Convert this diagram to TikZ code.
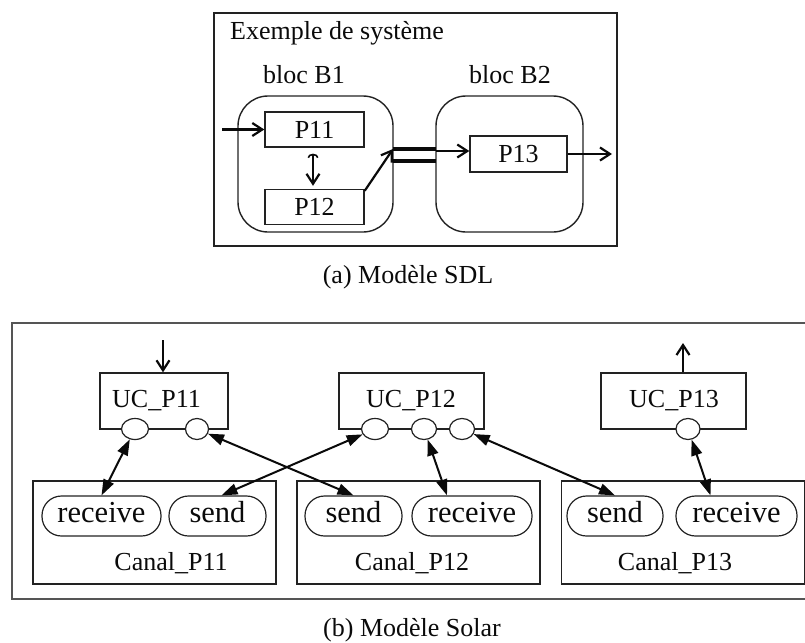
\documentclass[tikz,border=0pt]{standalone}
\usepackage{fontspec}
\setmainfont{Liberation Serif}
\usetikzlibrary{positioning, arrows.meta, calc, shapes.geometric}
\definecolor{ink}{HTML}{0A0A0A}
\definecolor{wire}{HTML}{222222}
\definecolor{rim}{HTML}{555555}
\tikzset{
  every node/.style = {text=ink, font=\fontsize{26}{30}\selectfont},
  sdframe/.style = {draw=wire, line width=1.6pt, inner sep=0pt},
  sdbloc/.style  = {draw=wire, line width=1.4pt, rounded corners=30pt, minimum height=136pt, inner sep=0pt},
  sdproc/.style  = {draw=wire, line width=1.4pt, minimum width=99pt, minimum height=35pt, inner sep=0pt},
  sduc/.style    = {draw=wire, line width=1.4pt, minimum height=56pt, inner sep=0pt},
  sdcanal/.style = {draw=wire, line width=1.4pt, minimum width=243pt, minimum height=103pt, inner sep=0pt},
  sdpill/.style  = {draw=wire, line width=1.2pt, rounded corners=19.5pt, minimum height=40pt, inner sep=0pt,
                    font=\fontsize{30.5}{36}\selectfont, text height=12pt, text depth=0pt},
  sdport/.style  = {ellipse, draw=wire, line width=1.2pt, fill=white, minimum height=21pt, inner sep=0pt},
  sdlab/.style   = {inner sep=0pt, anchor=base},
  sdgo/.style    = {-{Straight Barb[length=10pt,width=13pt]}, draw=ink, line width=2.2pt},
  sdbi/.style    = {{Triangle[length=16pt,width=11pt]}-{Triangle[length=16pt,width=11pt]}, draw=ink, line width=2pt},
  sdbus/.style   = {draw=ink, line width=3.2pt},
}

\begin{document}
\begin{tikzpicture}[x=1pt, y=-1pt]
\useasboundingbox (0,0) rectangle (805,642);

% (a) SDL
\node[sdframe, minimum width=403pt, minimum height=233pt] (SYS) at (415.5,129.5) {};
\node[sdlab, anchor=base west] (TSYS) at (230,40) {Exemple de système};
\node[sdbloc, minimum width=155pt] (B1) at (315.5,164) {};
\node[sdbloc, minimum width=147pt] (B2) at (509.5,164) {};
\node[sdlab] (LB1) at (304,83) {bloc B1};
\node[sdlab] (LB2) at (510,83) {bloc B2};
\node[sdproc] (P11) at (314.5,129.5) {P11};
\node[sdproc] (P12) at (314.5,207) {P12};
\node[sdproc, minimum width=97pt, minimum height=36pt] (P13) at (518.5,154) {P13};

\coordinate (IN) at (222,129.5);
\coordinate (J1) at (393,149);
\coordinate (J2) at (436,151);
\coordinate (OUT) at (612,154);
\draw[sdgo] (IN) -- (P11.west);
\draw[sdgo] (P13.east) -- (OUT);
\draw[sdgo, {Arc Barb[length=4pt,width=11pt,line width=1.6pt]}-{Straight Barb[length=10pt,width=13pt]}]
  ($(P11.south)+(-1.5,6)$) -- ($(P12.north)+(-1.5,-3)$);
\draw[sdgo] ($(P12.north east)+(0,2)$) -- (J1);
\draw[sdbus] (J1) -- ++(43,0) (J1) ++(0,12) -- ++(43,0);
\draw[sdgo] (J2) -- (J2 -| P13.west);

\node[sdlab] (CAPA) at (408,283) {(a) Modèle SDL};

% (b) Solar
\draw[draw=rim, line width=1.6pt] (806,323) -- (12,323) -- (12,599) -- (806,599);

\foreach \n/\x/\w/\lx in {1/164/128/156.5, 2/411.5/145/411, 3/673.5/145/674}{
  \node[sduc, minimum width=\w pt] (UC\n) at (\x,401) {};
  \node[sdlab] (LUC\n) at (\lx,407) {UC\_P1\n};
}
\foreach \n/\x/\lx in {1/154.5/171, 2/418.5/412, 3/683/675}{
  \node[sdcanal] (C\n) at (\x,532.5) {};
  \node[sdlab] (LC\n) at (\lx,570) {Canal\_P1\n};
}

\node[sdpill, minimum width=119pt] (R1) at (101.5,516) {receive};
\node[sdpill, minimum width=97pt]  (S1) at (217.5,516) {send};
\node[sdpill, minimum width=97pt]  (S2) at (353.5,516) {send};
\node[sdpill, minimum width=120pt] (R2) at (472,516) {receive};
\node[sdpill, minimum width=96pt]  (S3) at (615,516) {send};
\node[sdpill, minimum width=121pt] (R3) at (736.5,516) {receive};

\node[sdport, minimum width=27pt] (U1a) at (135,429) {};
\node[sdport, minimum width=23pt] (U1b) at (197,429) {};
\node[sdport, minimum width=27pt] (U2a) at (375,429) {};
\node[sdport, minimum width=25pt] (U2b) at (424,429) {};
\node[sdport, minimum width=25pt] (U2c) at (462,429) {};
\node[sdport, minimum width=24pt] (U3a) at (688,429) {};

\draw[sdbi] (U1a) -- (R1.north);
\draw[sdbi] (U1b) -- (S2.north);
\draw[sdbi] (U2a) -- ([xshift=4pt]S1.north);
\draw[sdbi] (U2b) -- ([xshift=-25pt]R2.north);
\draw[sdbi] (U2c) -- (S3.north);
\draw[sdbi] (U3a) -- ([xshift=-26pt]R3.north);

\coordinate (IN2) at (163,340);
\coordinate (OUT2) at (683,343);
\draw[sdgo] (IN2) -- (IN2 |- UC1.north);
\draw[sdgo] (OUT2 |- UC3.north) -- (OUT2);

\node[sdlab] (CAPB) at (412,636) {(b) Modèle Solar};
\end{tikzpicture}
\end{document}
